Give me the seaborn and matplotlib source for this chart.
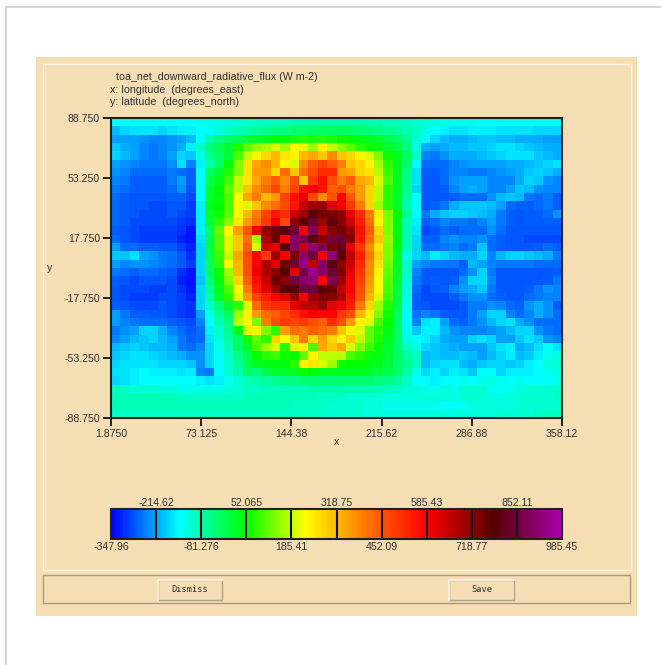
#!/usr/bin/env python3

import pandas as pd
import matplotlib.pyplot as plt
import seaborn as sns
from matplotlib.colors import LinearSegmentedColormap
from matplotlib.patches import Rectangle

title = "toa_net_downward_radiative_flux (W m-2)"
x_title = "x: longitude  (degrees_east)"
y_title = "y: latitude  (degrees_north)"
x_ticklabels = ["1.8750", "73.125", "144.38", "215.62", "286.88", "358.12"]
y_ticklabels = ["88.750", "53.250", "17.750", "-17.750", "-53.250", "-88.750"]
cbar_values = [-347.96, -214.62, -81.276, 52.065, 185.41, 318.75, 452.09, 585.43, 718.77, 852.11, 985.45]
cbar_labels = ["-347.96", "-214.62", "-81.276", "52.065", "185.41", "318.75", "452.09", "585.43", "718.77", "852.11", "985.45"]

# flux, north to south, in tens of W m-2
flux_tens = [
    [-15,-15,-14,-14,-14,-14,-14,-14,-14,-13,-13,-12,-12,-11,-11,-10,-10,-9,-9,-8,-8,-8,-8,-8,-8,-8,-8,-8,-8,-9,-9,-10,-11,-11,-12,-12,-13,-13,-13,-14,-14,-14,-14,-14,-14,-14,-14,-15],
    [-20,-18,-17,-17,-17,-18,-17,-16,-16,-15,-14,-12,-10,-9,-8,-7,-6,-5,-5,-4,-4,-3,-3,-3,-3,-3,-4,-4,-5,-6,-7,-8,-10,-13,-15,-16,-17,-17,-16,-16,-16,-17,-17,-17,-17,-18,-18,-18],
    [-22,-22,-22,-23,-24,-24,-23,-22,-20,-14,-8,-5,-3,-1,1,2,3,5,6,7,8,7,8,7,6,5,4,3,2,0,-3,-6,-11,-15,-18,-20,-21,-21,-20,-19,-19,-20,-20,-21,-21,-21,-22,-22],
    [-19,-21,-22,-24,-25,-24,-23,-21,-16,-10,-4,-1,2,7,12,15,17,20,16,23,21,16,24,18,15,12,8,6,4,2,0,-4,-12,-21,-22,-21,-20,-20,-19,-19,-18,-17,-17,-18,-19,-20,-21,-21],
    [-18,-20,-22,-24,-25,-24,-22,-18,-19,-12,-6,-3,1,10,18,24,28,32,26,24,32,34,30,38,30,28,24,20,14,6,3,-2,-10,-24,-25,-23,-21,-21,-21,-20,-19,-18,-17,-17,-17,-19,-20,-21],
    [-22,-23,-24,-25,-25,-25,-23,-17,-24,-16,-8,-3,4,14,26,34,38,32,24,20,38,44,48,44,40,30,28,24,16,8,3,-3,-14,-26,-26,-26,-24,-23,-22,-22,-22,-22,-21,-21,-20,-19,-18,-17],
    [-23,-24,-26,-26,-26,-26,-25,-26,-27,-15,-2,1,7,14,26,36,36,28,42,30,42,46,52,52,36,34,28,26,18,9,3,-5,-17,-27,-27,-26,-24,-24,-25,-25,-24,-23,-22,-21,-19,-18,-19,-21],
    [-24,-25,-27,-27,-27,-27,-25,-22,-27,-15,0,3,9,18,26,34,40,44,38,46,30,50,56,46,40,44,34,32,20,10,3,-5,-17,-28,-28,-26,-23,-22,-22,-22,-24,-24,-24,-21,-18,-19,-23,-24],
    [-25,-26,-27,-27,-27,-27,-26,-23,-28,-15,1,5,12,18,30,38,42,48,40,48,56,60,55,44,46,40,36,28,18,8,3,-6,-18,-28,-28,-27,-24,-22,-21,-22,-24,-24,-22,-19,-20,-23,-24,-24],
    [-26,-27,-28,-28,-28,-28,-27,-27,-29,-15,2,4,10,22,34,40,32,36,48,56,62,48,38,46,58,45,36,28,18,8,2,-7,-15,-28,-28,-28,-27,-26,-26,-26,-23,-20,-19,-20,-25,-26,-25,-27],
    [-26,-27,-28,-28,-29,-29,-28,-28,-30,-16,3,5,10,24,20,30,38,42,47,55,65,70,70,62,60,50,40,28,16,8,2,-8,-15,-28,-27,-25,-21,-19,-19,-19,-20,-22,-26,-27,-27,-26,-25,-27],
    [-26,-27,-28,-29,-29,-29,-28,-29,-30,-16,2,6,11,24,32,40,48,55,52,65,70,78,75,74,72,62,52,40,25,14,5,-6,-15,-25,-21,-19,-18,-18,-19,-20,-21,-25,-27,-28,-27,-27,-26,-23],
    [-26,-27,-29,-29,-29,-29,-29,-30,-31,-16,1,8,14,26,36,42,50,60,48,72,78,84,70,80,72,64,54,42,24,14,4,-8,-16,-27,-26,-24,-25,-25,-26,-24,-22,-25,-27,-28,-27,-27,-27,-27],
    [-27,-28,-29,-30,-30,-30,-30,-31,-33,-16,-2,12,22,35,45,60,72,75,80,85,60,88,65,72,75,70,56,44,28,14,4,-8,-17,-29,-28,-26,-27,-26,-26,-26,-23,-26,-28,-28,-28,-28,-28,-28],
    [-26,-28,-29,-30,-30,-30,-30,-32,-33,-17,-1,10,20,30,42,16,68,76,58,90,88,80,72,86,84,72,55,42,30,15,5,-8,-18,-27,-27,-24,-23,-24,-24,-23,-26,-27,-28,-28,-29,-29,-29,-29],
    [-22,-26,-26,-27,-27,-28,-28,-30,-32,-18,0,10,20,30,44,20,64,62,80,90,65,92,88,74,82,62,50,38,26,14,4,-8,-18,-26,-26,-25,-24,-26,-25,-19,-26,-27,-28,-28,-28,-27,-26,-27],
    [-19,-19,-17,-22,-23,-25,-26,-28,-31,-18,-1,9,18,34,46,58,50,70,60,74,92,85,60,92,78,66,54,40,28,14,2,-12,-18,-20,-16,-18,-20,-21,-21,-18,-24,-20,-18,-18,-19,-20,-21,-25],
    [-22,-24,-23,-23,-24,-25,-26,-28,-30,-18,-2,8,22,32,46,58,68,62,75,84,94,66,90,80,72,64,52,38,26,13,2,-10,-22,-24,-25,-25,-25,-27,-20,-22,-24,-25,-25,-25,-25,-26,-26,-26],
    [-25,-26,-27,-26,-26,-27,-28,-31,-33,-18,-3,6,16,32,46,60,68,72,78,62,86,94,90,84,74,62,50,38,24,12,2,-10,-24,-28,-28,-28,-28,-26,-23,-18,-25,-28,-28,-28,-28,-28,-28,-27],
    [-27,-28,-29,-28,-28,-28,-29,-32,-33,-19,-4,4,14,28,44,56,65,76,72,86,90,92,58,88,70,60,48,36,22,11,1,-11,-25,-28,-27,-28,-27,-23,-18,-18,-24,-28,-28,-28,-28,-28,-27,-25],
    [-28,-29,-29,-29,-30,-30,-29,-31,-33,-18,-6,3,10,22,40,54,62,70,78,78,86,84,78,76,66,58,46,34,22,10,0,-12,-26,-29,-28,-27,-24,-22,-21,-19,-25,-28,-28,-28,-27,-25,-23,-24],
    [-28,-29,-30,-30,-30,-29,-29,-30,-32,-18,-8,2,8,20,36,48,54,58,62,70,58,70,74,72,68,56,45,32,20,9,0,-12,-27,-29,-29,-29,-27,-25,-23,-23,-26,-27,-28,-28,-26,-25,-24,-24],
    [-27,-28,-29,-29,-29,-28,-29,-30,-31,-18,-10,-4,2,8,20,42,50,52,52,62,66,66,70,62,60,54,40,28,16,7,-1,-13,-27,-28,-29,-29,-29,-28,-25,-25,-23,-24,-26,-27,-23,-21,-23,-27],
    [-22,-25,-27,-27,-28,-28,-29,-30,-31,-22,-13,-7,-2,16,24,36,42,44,48,52,56,60,58,58,50,46,32,24,14,6,-2,-14,-25,-24,-25,-27,-28,-28,-25,-22,-18,-18,-24,-26,-24,-21,-23,-26],
    [-22,-24,-25,-26,-26,-26,-27,-28,-29,-24,-14,-9,-5,18,24,14,40,46,50,48,50,46,44,52,46,36,24,20,10,5,-3,-14,-24,-17,-16,-22,-26,-27,-25,-23,-20,-18,-17,-21,-23,-26,-26,-26],
    [-25,-23,-22,-18,-18,-21,-24,-26,-28,-26,-16,-11,-6,4,20,24,14,8,35,42,40,44,42,40,30,24,20,12,8,4,-3,-13,-19,-16,-16,-20,-23,-24,-24,-24,-23,-22,-20,-18,-18,-23,-25,-26],
    [-24,-22,-20,-19,-18,-20,-22,-25,-27,-26,-17,-12,-7,-2,6,12,8,28,22,30,40,28,35,28,24,30,18,12,7,3,-3,-12,-15,-16,-18,-21,-22,-22,-18,-17,-18,-22,-22,-19,-17,-19,-23,-24],
    [-20,-19,-18,-19,-20,-20,-21,-25,-26,-24,-18,-13,-9,-3,2,10,16,20,8,20,25,10,34,30,34,20,14,9,6,2,-3,-9,-12,-18,-19,-20,-21,-22,-22,-22,-19,-17,-16,-21,-20,-17,-15,-17],
    [-19,-18,-17,-17,-18,-19,-20,-21,-23,-23,-18,-14,-10,-5,0,5,8,9,6,5,12,24,18,18,18,10,8,6,4,2,-2,-7,-10,-20,-19,-20,-20,-19,-20,-22,-20,-18,-16,-20,-19,-16,-13,-12],
    [-18,-17,-17,-17,-17,-18,-18,-18,-19,-23,-18,-15,-11,-7,-1,3,4,4,4,8,24,26,20,16,6,5,5,4,3,1,-3,-6,-10,-20,-18,-17,-17,-20,-21,-19,-18,-18,-19,-18,-16,-14,-12,-11],
    [-17,-17,-16,-15,-16,-16,-16,-17,-16,-24,-25,-15,-11,-8,-3,-4,0,2,2,3,6,5,3,3,3,3,3,2,1,0,-3,-7,-13,-18,-16,-18,-16,-17,-19,-15,-14,-18,-16,-16,-16,-15,-13,-12],
    [-18,-17,-16,-15,-15,-14,-14,-14,-15,-16,-17,-16,-13,-11,-9,-8,-7,-6,-5,-5,-4,-4,-4,-4,-4,-4,-4,-4,-5,-5,-7,-10,-14,-14,-16,-15,-14,-13,-15,-13,-12,-13,-14,-13,-14,-14,-14,-13],
    [-10,-10,-11,-11,-11,-12,-12,-13,-13,-13,-13,-13,-12,-11,-10,-10,-9,-9,-9,-9,-9,-8,-8,-8,-8,-8,-8,-8,-9,-9,-10,-11,-12,-13,-13,-12,-13,-11,-11,-11,-13,-14,-13,-12,-11,-11,-11,-11],
    [-9,-9,-9,-9,-9,-9,-9,-10,-10,-10,-10,-10,-10,-10,-9,-9,-9,-9,-9,-9,-9,-9,-10,-10,-10,-11,-11,-11,-11,-12,-12,-12,-12,-12,-12,-12,-12,-11,-11,-11,-12,-12,-12,-11,-11,-11,-11,-10],
    [-9,-9,-9,-9,-9,-9,-9,-9,-9,-9,-9,-9,-9,-9,-9,-9,-9,-9,-9,-10,-10,-10,-10,-11,-11,-11,-11,-12,-12,-13,-13,-13,-13,-13,-13,-14,-14,-13,-12,-12,-12,-12,-12,-11,-11,-11,-11,-11],
    [-10,-10,-10,-10,-10,-10,-10,-10,-10,-10,-10,-10,-10,-10,-10,-10,-10,-10,-10,-10,-10,-10,-11,-11,-11,-11,-11,-12,-12,-12,-12,-12,-12,-12,-12,-12,-12,-12,-12,-12,-12,-11,-11,-11,-11,-10,-10,-10],
]

plt.rcParams["font.family"] = ["Liberation Sans", "DejaVu Sans"]
text_color = "#303030"
panel_color = "#f5deb3"

# colour stops of the model-output colour table
low, high = cbar_values[0], cbar_values[-1]
stops = [
    (-347.96, (0, 0, 255)), (-148, (0, 255, 255)), (52, (0, 255, 0)), (225, (255, 255, 0)),
    (452, (255, 85, 0)), (585, (255, 0, 0)), (785, (85, 0, 0)), (985.45, (170, 0, 170)),
]
rainbow = LinearSegmentedColormap.from_list(
    "flux", [((v - low) / (high - low), tuple(c / 255 for c in rgb)) for v, rgb in stops]
)

fig = plt.figure(figsize=(6.61, 6.65), dpi=100, facecolor="white")

# window chrome, in pixel coordinates
bg = fig.add_axes([0, 0, 1, 1])
bg.set_xlim(0, 661)
bg.set_ylim(665, 0)
bg.axis("off")
bg.plot([5.5, 5.5, 661], [665, 6.5, 6.5], color="#d4d4d4", lw=1.5)
bg.add_patch(Rectangle((36, 57), 601, 559, facecolor=panel_color, edgecolor="none"))
bg.add_patch(Rectangle((42.5, 63.5), 588, 506, fill=False, edgecolor="#fbf3e3", lw=1))
bg.add_patch(Rectangle((43, 575), 587, 28, facecolor=panel_color, edgecolor="#a89a80", lw=1))
for left, width, label in [(158, 64, "Dismiss"), (449, 65, "Save")]:
    bg.add_patch(Rectangle((left, 580), width, 20, facecolor=panel_color, edgecolor="#b0a285", lw=1))
    bg.plot([left, left, left + width], [600, 580, 580], color="#fdf8ee", lw=1.2)
    bg.text(left + width / 2, 590, label, family="DejaVu Sans Mono", fontsize=6.2, color=text_color,
            ha="center", va="center")

bg.text(116, 77, title, fontsize=7.7, color=text_color, va="center")
bg.text(110, 90, x_title, fontsize=7.7, color=text_color, va="center")
bg.text(110, 102, y_title, fontsize=7.7, color=text_color, va="center")
bg.text(50, 268, "y", fontsize=7.6, color=text_color, ha="center", va="center")
bg.text(336, 442, "x", fontsize=7.6, color=text_color, ha="center", va="center")

ax = fig.add_axes([111 / 661, 1 - 418 / 665, 451 / 661, 300 / 665])
cax = fig.add_axes([111 / 661, 1 - 539 / 665, 451 / 661, 30 / 665])

flux = pd.DataFrame(flux_tens) * 10
sns.heatmap(flux, ax=ax, cmap=rainbow, vmin=low, vmax=high, cbar_ax=cax,
            cbar_kws={"orientation": "horizontal"}, xticklabels=False, yticklabels=False)

n_rows, n_cols = flux.shape
ax.set_xticks([n_cols * i / 5 for i in range(6)], x_ticklabels)
ax.set_yticks([n_rows * i / 5 for i in range(6)], y_ticklabels, rotation=0)
ax.tick_params(length=6, width=1.4, color="#202020", labelsize=7.6, labelcolor=text_color, pad=2)
for spine in ax.spines.values():
    spine.set_visible(True)
    spine.set_linewidth(1.5)
    spine.set_color("#202020")

cbar = ax.collections[0].colorbar
cbar.set_ticks(cbar_values[0::2], labels=cbar_labels[0::2])
cbar.ax.tick_params(length=0, labelsize=7.6, labelcolor=text_color, pad=2.5)
cbar.outline.set_linewidth(1.5)
cbar.outline.set_edgecolor("#202020")
top = cbar.ax.secondary_xaxis("top")
top.set_xticks(cbar_values[1::2], labels=cbar_labels[1::2])
top.tick_params(length=0, labelsize=7.6, labelcolor=text_color, pad=0.5)
top.spines["top"].set_visible(False)
for value in cbar_values[1:-1]:
    cbar.ax.axvline(value, color="#101010", lw=1.5)

fig.savefig("out.png", dpi=100)
